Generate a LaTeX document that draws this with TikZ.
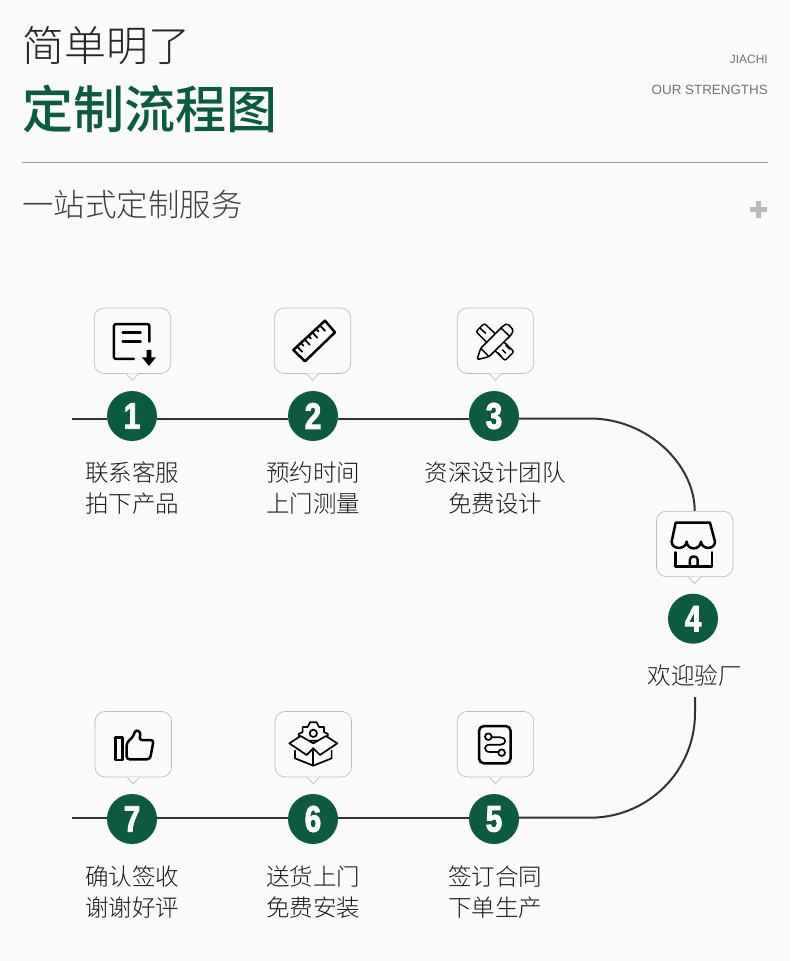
\documentclass[tikz,border=0pt]{standalone}
\usetikzlibrary{calc}
\usepackage{fontspec}
\setmainfont{Noto Sans CJK SC Light}
\newfontfamily\titlefont{Noto Sans CJK SC Medium}
\newfontfamily\latinfont{Liberation Sans}
\newfontfamily\numfont[FakeStretch=0.8,FakeBold=2.5]{Liberation Sans}
\definecolor{bgc}{HTML}{FAFAFA}
\definecolor{green}{HTML}{0B5C3E}
\definecolor{ink}{HTML}{333333}
\definecolor{bub}{HTML}{C0BCB4}
\tikzset{
  bubble/.style={draw=bub,line width=0.7pt,fill=bgc,rounded corners=10pt,minimum width=76.5pt,minimum height=65.5pt,inner sep=0pt},
  num/.style={circle,fill=green,minimum size=50pt,inner sep=0pt,text=white,font=\numfont\bfseries\fontsize{37}{37}\selectfont},
  lab/.style={align=center,inner sep=0pt,text=black!90,font=\fontsize{23.5}{30.5}\selectfont},
  flow/.style={draw=ink,line width=2pt},
  icon/.style={draw=black,line width=2.5pt,line cap=round,line join=round},
  iconthin/.style={draw=black,line width=1.5pt,line cap=round,line join=round},
  zA/.style={shift={(80,300)},x=0.3333pt,y=-0.3333pt},
  zB/.style={shift={(440,300)},x=0.3333pt,y=-0.3333pt},
  zC/.style={shift={(80,700)},x=0.3333pt,y=-0.3333pt},
  zD/.style={shift={(440,700)},x=0.3333pt,y=-0.3333pt},
}
\newcommand{\tailon}[1]{%
  \fill[bgc] ([xshift=-6pt,yshift=0.4pt]#1.south) -- ++(6,6.9) -- ++(6,-6.9) -- cycle;
  \draw[bub,line width=0.7pt] ([xshift=-6pt]#1.south) -- ++(6,6.5) -- ++(6,-6.5);}
\begin{document}
\begin{tikzpicture}[x=1pt,y=-1pt]
\useasboundingbox (0,0) rectangle (790,961);
\fill[bgc] (0,0) rectangle (790,961);

% header
\node[anchor=west,inner sep=0pt,text=black!85,font=\fontsize{42}{42}\selectfont] (h1) at (22,45.5) {简单明了};
\node[anchor=west,inner sep=0pt,text=green,font=\titlefont\fontsize{51}{51}\selectfont] (h2) at (22,109) {定制流程图};
\node[anchor=east,inner sep=0pt,text=black!55,font=\latinfont\fontsize{12}{12}\selectfont] (h3) at (768,59) {JIACHI};
\node[anchor=east,inner sep=0pt,text=black!55,font=\latinfont\fontsize{13.4}{14}\selectfont] (h4) at (768,90) {OUR STRENGTHS};
\coordinate (ruleL) at (22,162.5);
\coordinate (ruleR) at (768,162.5);
\draw[black!42,line width=0.9pt] (ruleL) -- (ruleR);
\node[anchor=west,inner sep=0pt,text=black!75,font=\fontsize{31.5}{32}\selectfont] (h5) at (22,205) {一站式定制服务};
\fill[black!27] (750,207.2) rectangle (767.2,212.2) (756.2,201) rectangle (761.2,218.2);

% circles
\node[num] (c1) at (132,416) {1};
\node[num] (c2) at (313,416) {2};
\node[num] (c3) at (494,416) {3};
\node[num] (c4) at (693,618.7) {4};
\node[num] (c5) at (494,819) {5};
\node[num] (c6) at (313,819) {6};
\node[num] (c7) at (132,819) {7};

% bubbles
\node[bubble] (b1) at (132.4,340.7) {};
\node[bubble] (b2) at (312.5,340.7) {};
\node[bubble] (b3) at (495.5,340.7) {};
\node[bubble] (b4) at (694.7,543.9) {};
\node[bubble] (b5) at (495.5,744.2) {};
\node[bubble] (b6) at (313.3,744.2) {};
\node[bubble] (b7) at (133.3,744.2) {};
\foreach \b in {b1,b2,b3,b4,b5,b6,b7}{\tailon{\b}}

% labels
\node[lab] (l1) at (132,488) {联系客服\\拍下产品};
\node[lab] (l2) at (313,488) {预约时间\\上门测量};
\node[lab] (l3) at (495,488) {资深设计团队\\免费设计};
\node[lab] (l4) at (694.5,676) {欢迎验厂};
\node[lab] (l5) at (495,892) {签订合同\\下单生产};
\node[lab] (l6) at (313,892) {送货上门\\免费安装};
\node[lab] (l7) at (132,892) {确认签收\\谢谢好评};

% connectors
\coordinate (sA) at (72,418.5);
\coordinate (tA) at (590,418.5);
\coordinate (sB) at (72,817.7);
\coordinate (tB) at (590,817.7);
\coordinate (eB) at (695,697);
\draw[flow] (sA) -- (c1.west |- sA);
\draw[flow] (c1.east |- sA) -- (c2.west |- sA);
\draw[flow] (c2.east |- sA) -- (c3.west |- sA);
\draw[flow] (c3.east |- sA) -- (tA) .. controls (648,418.5) and (694.7,465) .. (b4.north);
\draw[flow] (sB) -- (c7.west |- sB);
\draw[flow] (c7.east |- sB) -- (c6.west |- sB);
\draw[flow] (c6.east |- sB) -- (c5.west |- sB);
\draw[flow] (c5.east |- sB) -- (tB) .. controls (648,817.7) and (695,771) .. (695,713) -- (eB);

% icon 1
\begin{scope}[zA]
\draw[icon,rounded corners=2pt] (208,125) -- (208,72) -- (102,72) -- (102,177) -- (162,177);
\draw[icon] (128,97) -- (182,97) (128,125) -- (182,125);
\fill[black] (200,150) -- (214,150) -- (214,172) -- (228,172) -- (207,198) -- (186,172) -- (200,172) -- cycle;
\end{scope}
% icon 2
\begin{scope}[zA]
\draw[icon] (735,62) -- (765,97) -- (675,184) -- (640,150) -- cycle;
\foreach \t/\l in {0.12/1,0.24/0,0.36/1,0.48/0,0.60/1,0.72/0,0.84/1}{
  \draw[iconthin,line width=1.8pt] ($(640,150)!\t!(735,62)$) -- ++({(\l+1)*7.5},{(\l+1)*8});
}
\end{scope}
% icon 3
\begin{scope}[zB]
\draw[iconthin,rounded corners=2pt] (108,95) -- (133,70) -- (222,155) -- (195,182) -- cycle;
\draw[iconthin] (120,84) -- (132,96) (130,93) -- (137,100) (185,170) -- (173,158) (197,159) -- (188,150) (208,147) -- (198,137);
\draw[iconthin,fill=bgc,rounded corners=1.5pt] (111,179) -- (122,145) -- (190,77) -- (203,71) -- (220,90) -- (215,103) -- (147,170) -- cycle;
\draw[iconthin] (122,145) -- (147,170) (183,84) -- (208,108);
\end{scope}
% icon 4
\begin{scope}[zB]
\draw[icon] (707,668) -- (810,668) -- (825,725) .. controls (825,750) and (785,750) .. (783,725)
  .. controls (780,752) and (742,752) .. (740,725) .. controls (738,750) and (695,750) .. (695,725) -- cycle;
\draw[icon] (706,757) -- (706,800) -- (816,800) -- (816,757);
\draw[icon,rounded corners=3pt] (750,800) -- (750,770) -- (773,770) -- (773,800);
\end{scope}
% icon 5
\begin{scope}[zD]
\draw[icon,rounded corners=5pt] (117,78) rectangle (212,190);
\draw[iconthin,line width=1.7pt] (145,110) circle[radius=10] (185,158) circle[radius=10];
\draw[iconthin,line width=1.7pt] (155,112) -- (182,112) .. controls (200,112) and (200,134) .. (182,134) -- (150,134) .. controls (130,134) and (130,156) .. (150,156) -- (175,156);
\end{scope}
% icon 6
\begin{scope}[zC]
\draw[iconthin,line width=1.7pt,fill=bgc] (660,122) -- (656,102) -- (668,96) -- (668,81) -- (683,81) -- (690,67) -- (710,67) -- (717,81) -- (732,81) -- (732,96) -- (744,102) -- (740,122) -- cycle;
\draw[iconthin,line width=1.7pt] (700,100) circle[radius=11];
\draw[iconthin,line width=1.7pt,fill=bgc] (628,130) -- (662,108) -- (700,130) -- (738,108) -- (772,130) -- (720,165) -- (700,145) -- (680,165) -- cycle;
\draw[iconthin,line width=1.7pt] (645,152) -- (645,175) -- (700,197) -- (755,175) -- (755,152);
\draw[iconthin,line width=1.7pt] (700,197) -- (700,145);
\end{scope}
% icon 7
\begin{scope}[zC]
\draw[icon] (106,112) rectangle (128,180);
\draw[icon,rounded corners=3pt] (140,178) -- (140,128) -- (158,112) -- (168,88) -- (183,98) -- (177,120) -- (221,120) -- (210,178) -- cycle;
\end{scope}
\end{tikzpicture}
\end{document}
